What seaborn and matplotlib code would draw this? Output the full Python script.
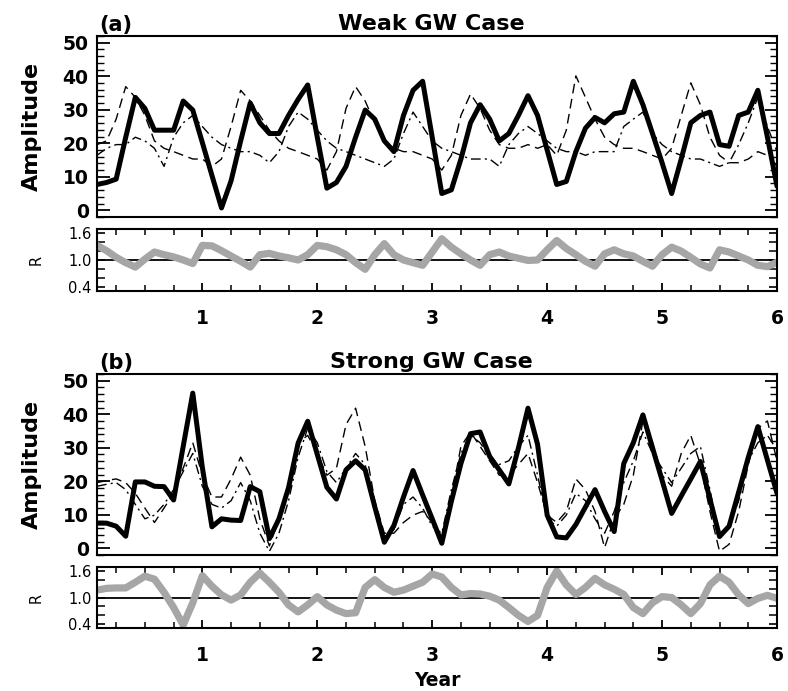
import numpy as np
import pandas as pd
import matplotlib
matplotlib.use("Agg")
import matplotlib.pyplot as plt
from matplotlib.ticker import MultipleLocator, FixedLocator
import seaborn as sns

# Monthly time axis: six years, month 1 .. 72
month = np.arange(1, 73)
year = month / 12.0

# ---- (a) Weak GW case ----
weak_total = [7.7, 8.3, 9.3, 21.8, 33.7, 30.4, 23.9, 23.9, 23.9, 32.6, 29.9, 20.2,
              10.4, 0.7, 8.8, 20.7, 32.0, 26.1, 22.9, 22.9, 28.3, 33.1, 37.4, 21.8,
              6.6, 8.3, 13.1, 21.8, 29.9, 27.2, 20.7, 17.5, 28.3, 35.8, 38.5, 21.8,
              5.0, 6.1, 15.3, 26.1, 31.5, 27.2, 20.7, 22.9, 28.3, 34.2, 28.3, 18.0,
              7.7, 8.6, 17.5, 24.5, 27.7, 26.1, 28.8, 29.3, 38.5, 31.5, 22.9, 14.2,
              5.0, 15.3, 26.1, 28.3, 29.3, 19.6, 19.1, 28.3, 29.3, 35.8, 21.8, 7.2]
weak_dashed = [19.6, 20.7, 27.2, 36.9, 33.7, 28.3, 20.7, 18.5, 17.5, 16.4, 15.3, 15.3,
               13.1, 15.3, 25.0, 35.8, 32.6, 28.3, 23.9, 20.7, 18.5, 17.5, 16.4, 15.3,
               12.0, 17.5, 30.4, 36.9, 32.6, 26.1, 20.7, 18.5, 17.5, 17.5, 16.4, 15.3,
               12.0, 16.4, 28.3, 34.7, 30.4, 23.9, 19.6, 18.5, 18.5, 19.6, 18.5, 19.6,
               16.4, 23.9, 40.1, 33.7, 27.2, 21.8, 19.6, 18.5, 18.5, 17.5, 16.4, 15.3,
               18.5, 28.3, 38.0, 31.5, 21.8, 16.4, 14.2, 14.2, 15.3, 17.5, 16.4, 13.1]
weak_dashdot = [16.4, 18.5, 19.6, 19.6, 21.8, 20.7, 18.5, 13.1, 21.8, 26.1, 28.3, 25.0,
                21.8, 19.6, 18.5, 17.5, 17.5, 16.4, 14.2, 17.5, 25.0, 29.3, 27.2, 23.9,
                20.7, 18.5, 17.5, 16.4, 15.3, 14.2, 13.1, 15.3, 22.9, 29.3, 25.0, 20.7,
                18.5, 17.5, 16.4, 15.3, 15.3, 15.3, 13.1, 19.6, 22.9, 25.0, 22.9, 20.7,
                18.5, 17.5, 17.5, 16.4, 17.5, 17.5, 17.5, 25.0, 27.2, 29.3, 22.9, 19.6,
                17.5, 16.4, 15.3, 15.3, 14.2, 13.1, 14.2, 19.6, 26.1, 33.7, 25.0, 17.5]
weak_ratio = [1.33, 1.21, 1.06, 0.94, 0.84, 1.02, 1.18, 1.12, 1.07, 1.00, 0.92, 1.33,
              1.32, 1.21, 1.09, 0.97, 0.84, 1.12, 1.15, 1.09, 1.05, 1.00, 1.12, 1.33,
              1.30, 1.23, 1.12, 0.94, 0.79, 1.12, 1.37, 1.12, 1.00, 0.94, 0.88, 1.18,
              1.48, 1.29, 1.14, 1.00, 0.88, 1.12, 1.18, 1.09, 1.04, 0.99, 1.00, 1.23,
              1.44, 1.26, 1.12, 0.97, 0.86, 1.14, 1.23, 1.14, 1.09, 0.97, 0.86, 1.12,
              1.29, 1.20, 1.06, 0.91, 0.82, 1.23, 1.18, 1.09, 1.00, 0.88, 0.85, 0.95]

# ---- (b) Strong GW case ----
strong_total = [7.5, 7.5, 6.6, 3.6, 19.8, 19.8, 18.5, 18.4, 14.4, 30.4, 46.3, 24.1,
                6.4, 8.8, 8.4, 8.3, 18.4, 16.9, 2.9, 8.8, 18.1, 31.4, 37.9, 28.0,
                18.2, 14.7, 23.4, 26.1, 23.4, 12.4, 1.8, 6.8, 15.3, 23.2, 15.9, 8.8,
                1.5, 14.0, 25.3, 34.2, 34.7, 27.4, 23.4, 19.2, 29.9, 41.8, 31.0, 9.9,
                3.4, 3.1, 7.1, 12.3, 17.5, 11.0, 5.0, 25.3, 31.5, 39.8, 30.0, 20.3,
                10.4, 15.6, 20.7, 25.9, 14.6, 3.5, 6.6, 16.8, 27.1, 36.3, 26.3, 16.4]
strong_dashed = [19.6, 20.2, 20.7, 19.6, 16.4, 12.0, 7.7, 12.0, 16.4, 23.9, 31.5, 21.8,
                 15.3, 15.3, 20.7, 27.2, 21.8, 8.8, 0.7, 8.8, 17.5, 31.5, 33.7, 28.3,
                 21.8, 23.9, 36.9, 41.8, 30.4, 14.2, 4.5, 4.5, 7.7, 9.9, 11.0, 7.7,
                 3.4, 15.3, 30.4, 34.7, 30.4, 26.1, 21.8, 21.8, 25.0, 28.3, 19.6, 9.9,
                 7.7, 11.0, 20.7, 17.5, 11.0, 0.2, 8.8, 13.1, 21.8, 38.0, 31.5, 21.8,
                 18.5, 28.3, 33.7, 25.0, 11.0, -0.9, 1.2, 11.0, 25.0, 35.8, 38.0, 26.1]
strong_dashdot = [18.5, 19.1, 19.6, 17.5, 13.1, 8.8, 9.9, 13.1, 17.5, 22.9, 28.3, 18.5,
                  13.1, 12.0, 14.2, 19.6, 14.2, 4.5, -0.9, 4.5, 14.2, 27.2, 35.8, 31.5,
                  22.9, 19.6, 23.9, 28.3, 25.0, 11.0, 3.4, 5.6, 13.1, 15.3, 12.0, 6.6,
                  4.5, 17.5, 28.3, 33.7, 31.5, 27.2, 25.0, 26.1, 30.4, 33.7, 21.8, 8.8,
                  6.6, 9.9, 16.4, 14.2, 8.8, 4.5, 11.0, 19.6, 26.1, 34.7, 28.3, 23.9,
                  19.6, 23.9, 28.3, 30.4, 17.5, 3.4, 6.6, 14.2, 26.1, 31.5, 33.7, 29.3]
strong_ratio = [1.17, 1.21, 1.22, 1.22, 1.35, 1.49, 1.42, 1.12, 0.77, 0.37, 0.88, 1.50,
                1.26, 1.06, 0.94, 1.06, 1.35, 1.56, 1.35, 1.12, 0.83, 0.67, 0.83, 1.02,
                0.83, 0.71, 0.63, 0.65, 1.23, 1.41, 1.23, 1.12, 1.17, 1.26, 1.35, 1.54,
                1.47, 1.23, 1.06, 1.09, 1.08, 1.03, 0.94, 0.77, 0.59, 0.45, 0.59, 1.23,
                1.61, 1.29, 1.07, 1.23, 1.44, 1.29, 1.19, 1.07, 0.77, 0.63, 0.88, 1.02,
                1.00, 0.83, 0.63, 0.86, 1.29, 1.49, 1.35, 1.06, 0.86, 0.98, 1.05, 0.98]

amp_ticks = [0, 10, 20, 30, 40, 50]
ratio_ticks = [0.4, 1.0, 1.6]
year_ticks = [1, 2, 3, 4, 5, 6]

sns.set_style("white")
plt.rcParams["font.family"] = ["DejaVu Sans"]
plt.rcParams["axes.linewidth"] = 1.5
plt.rcParams["text.color"] = "black"
plt.rcParams["axes.labelcolor"] = "black"
plt.rcParams["xtick.color"] = "black"
plt.rcParams["ytick.color"] = "black"

W, H = 788, 691
fig = plt.figure(figsize=(W / 100, H / 100), dpi=100)


def box(left, top, right, bottom):
    return [left / W, 1 - bottom / H, (right - left) / W, (bottom - top) / H]


def amplitude_panel(rect, tag, title, total, dashed, dashdot):
    ax = fig.add_axes(rect)
    names = ["dashed", "dashdot", "total"]
    df = pd.DataFrame({
        "year": np.tile(year, 3),
        "amp": np.concatenate([dashed, dashdot, total]),
        "series": np.repeat(names, len(year)),
    })
    sns.lineplot(data=df, x="year", y="amp", hue="series", style="series",
                 size="series", hue_order=names, style_order=names,
                 size_order=names,
                 palette={"total": "black", "dashed": "black", "dashdot": "black"},
                 dashes={"total": "", "dashed": (7, 4), "dashdot": (7, 3, 1.5, 3)},
                 sizes={"total": 3.6, "dashed": 1.0, "dashdot": 1.0},
                 estimator=None, legend=False, ax=ax)
    ax.set_xlim(1 / 12, 6)
    ax.set_ylim(-2, 52)
    ax.set_yticks(amp_ticks)
    ax.yaxis.set_minor_locator(MultipleLocator(2))
    ax.tick_params(axis="y", which="both", direction="in", left=True, right=True,
                   labelright=False, colors="black")
    ax.tick_params(axis="y", which="major", length=9, width=1.3, labelsize=13.5, pad=6)
    ax.tick_params(axis="y", which="minor", length=5, width=1.0)
    ax.tick_params(axis="x", which="both", bottom=False, top=False, labelbottom=False)
    for lab in ax.get_yticklabels():
        lab.set_fontweight("bold")
    ax.set_xlabel("")
    ax.set_ylabel("Amplitude", fontsize=16, fontweight="bold", color="black")
    ax.yaxis.set_label_coords(-0.081, 0.5)
    for s in ax.spines.values():
        s.set_color("black")
        s.set_linewidth(1.5)
    ax.text(0.004, 1.008, tag, transform=ax.transAxes, ha="left", va="bottom",
            fontsize=15, fontweight="bold", color="black")
    ax.text(0.491, 1.012, title, transform=ax.transAxes, ha="center", va="bottom",
            fontsize=16, fontweight="bold", color="black")
    return ax


def ratio_panel(rect, ratio):
    ax = fig.add_axes(rect)
    ax.axhline(1.0, color="black", lw=1.3, zorder=1)
    sns.lineplot(x=year, y=ratio, color="#a6a6a6", lw=5.2, ax=ax, zorder=2,
                 estimator=None)
    ax.set_xlim(1 / 12, 6)
    ax.set_ylim(0.3, 1.7)
    ax.set_yticks(ratio_ticks)
    ax.set_yticklabels(["%.1f" % v for v in ratio_ticks])
    ax.yaxis.set_minor_locator(FixedLocator([0.6, 0.8, 1.2, 1.4]))
    ax.set_xticks(year_ticks)
    ax.set_xticklabels([str(v) for v in year_ticks])
    ax.xaxis.set_minor_locator(MultipleLocator(0.25))
    ax.tick_params(axis="both", which="both", direction="in", colors="black")
    ax.tick_params(axis="x", which="both", top=True, bottom=True)
    ax.tick_params(axis="x", which="major", length=6, width=1.3, labelsize=13.5, pad=13)
    ax.tick_params(axis="x", which="minor", length=4, width=1.1)
    ax.tick_params(axis="y", which="both", left=True, right=True, labelright=False)
    ax.tick_params(axis="y", which="major", length=6, width=1.2, labelsize=10.5, pad=4)
    ax.tick_params(axis="y", which="minor", length=5.5, width=1.1)
    for lab in ax.get_xticklabels():
        lab.set_fontweight("bold")
    ax.set_xlabel("")
    ax.set_ylabel("R", fontsize=10.5, color="black")
    ax.yaxis.set_label_coords(-0.078, 0.5)
    for s in ax.spines.values():
        s.set_color("black")
        s.set_linewidth(1.5)
    return ax


amplitude_panel(box(97, 36, 777, 217), "(a)", "Weak GW Case",
                weak_total, weak_dashed, weak_dashdot)
ratio_panel(box(97, 229, 777, 291), weak_ratio)
amplitude_panel(box(97, 374, 777, 555), "(b)", "Strong GW Case",
                strong_total, strong_dashed, strong_dashdot)
ratio_panel(box(97, 567, 777, 628), strong_ratio)

fig.text(437 / W, 1 - 681 / H, "Year", ha="center", va="center",
         fontsize=13.5, fontweight="bold", color="black")

fig.savefig("out.png", dpi=100, facecolor="white")
